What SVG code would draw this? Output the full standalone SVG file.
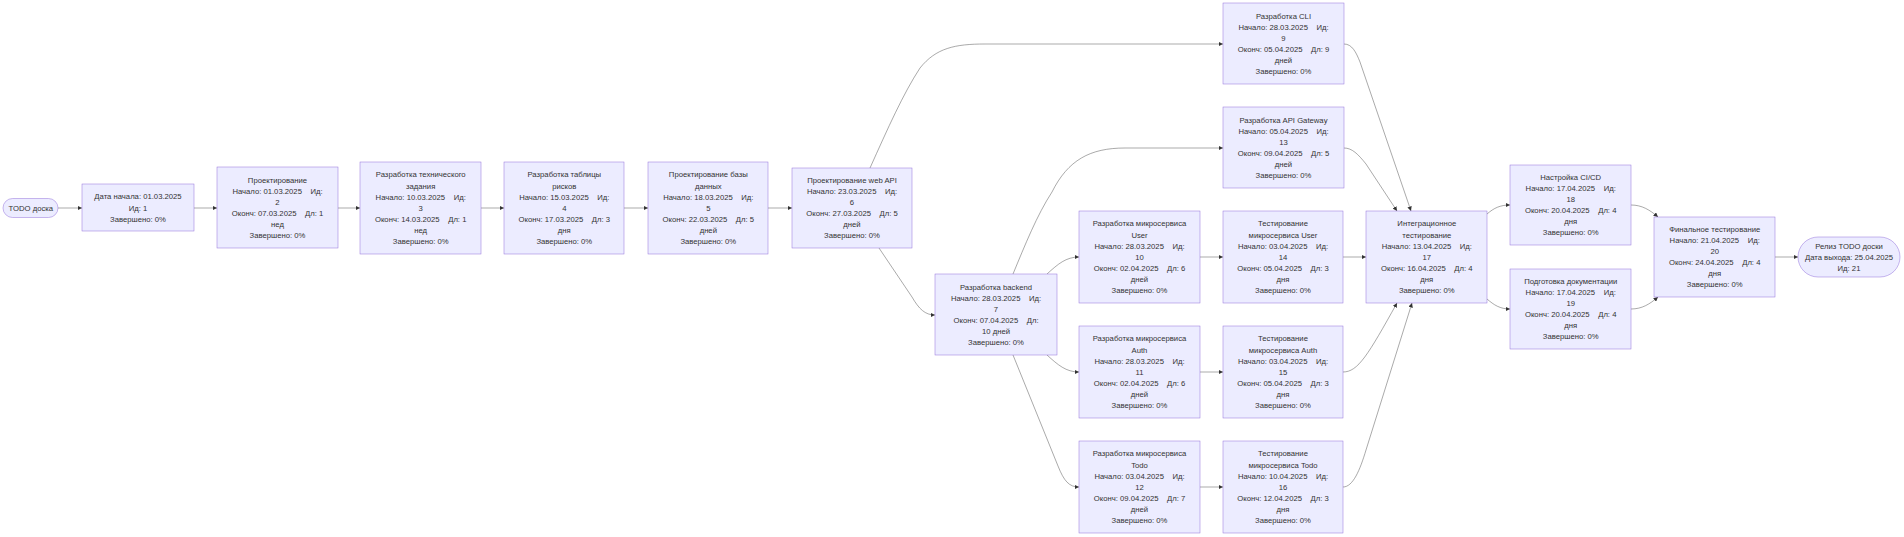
<svg xmlns="http://www.w3.org/2000/svg" width="1904" height="537" viewBox="0 0 1904 537">
<defs>
<style>
.n rect{fill:#ECECFF;stroke:#9370DB;stroke-width:0.5}
text{font-family:"Liberation Sans",Arial,sans-serif;font-size:7.7px;fill:#333;text-anchor:middle}
.e path{fill:none;stroke:#555;stroke-width:0.5;marker-end:url(#arr)}
</style>
<marker id="arr" viewBox="0 0 10 10" refX="10" refY="5" markerWidth="4.5" markerHeight="4.5" markerUnits="userSpaceOnUse" orient="auto"><path d="M0,0 L10,5 L0,10 z" fill="#333"/></marker>
</defs>
<rect width="1904" height="537" fill="#fff"/>
<g class="e" id="connectors">
<path d="M58,208 L82,208"/>
<path d="M194,208 L217,208"/>
<path d="M338,208 L360,208"/>
<path d="M481,208 L504,208"/>
<path d="M624,208 L648,208"/>
<path d="M768,208 L792,208"/>
<path d="M870,168 C888,128 903,94 920,68 C936,48 955,44 985,44 L1223,44"/>
<path d="M879,248 L912,297 C919,309 925,315 935,315"/>
<path d="M1013,274 C1025,245 1037,215 1052,192 C1068,160 1090,148 1125,148 L1223,148"/>
<path d="M1047,274 C1058,264 1066,257 1079,257"/>
<path d="M1047,355 C1058,365 1066,372 1079,372"/>
<path d="M1013,355 L1058,466 C1064,481 1069,487 1079,487"/>
<path d="M1200,257 L1223,257"/>
<path d="M1200,372 L1223,372"/>
<path d="M1200,487 L1223,487"/>
<path d="M1344,44 C1352,44 1356,52 1360,62 L1411,211"/>
<path d="M1344,148 C1352,148 1358,154 1366,164 L1397,211"/>
<path d="M1343,257 L1366,257"/>
<path d="M1343,372 C1358,372 1368,355 1397,303"/>
<path d="M1343,487 C1353,487 1360,470 1366,450 L1412,303"/>
<path d="M1487,214 C1494,208 1500,205 1510,205"/>
<path d="M1487,299 C1494,305 1500,309 1510,309"/>
<path d="M1631,205 C1642,205 1650,210 1658,217"/>
<path d="M1631,309 C1642,309 1650,304 1658,297"/>
<path d="M1775,257 L1798,257"/>
</g>
<g class="n" id="n1"><rect x="3" y="198.5" width="55" height="19" rx="9.5"/><text x="30.8" y="210.7">TODO доска</text></g>
<g class="n" id="n2"><rect x="82" y="184" width="112" height="47"/><text x="138" y="199.3"><tspan x="138">Дата начала: 01.03.2025</tspan><tspan x="138" dy="11.3">Ид: 1</tspan><tspan x="138" dy="11.3">Завершено: 0%</tspan></text></g>
<g class="n" id="n3"><rect x="217" y="167" width="121" height="81"/><text x="277.5" y="182.65"><tspan x="277.5">Проектирование</tspan><tspan x="277.5" dy="11.1">Начало: 01.03.2025&#160;&#160;&#160;&#160;Ид:</tspan><tspan x="277.5" dy="11.1">2</tspan><tspan x="277.5" dy="11.1">Оконч: 07.03.2025&#160;&#160;&#160;&#160;Дл: 1</tspan><tspan x="277.5" dy="11.1">нед</tspan><tspan x="277.5" dy="11.1">Завершено: 0%</tspan></text></g>
<g class="n" id="n4"><rect x="360" y="162" width="121" height="92"/><text x="420.7" y="177.4"><tspan x="420.7">Разработка технического</tspan><tspan x="420.7" dy="11.1">задания</tspan><tspan x="420.7" dy="11.1">Начало: 10.03.2025&#160;&#160;&#160;&#160;Ид:</tspan><tspan x="420.7" dy="11.1">3</tspan><tspan x="420.7" dy="11.1">Оконч: 14.03.2025&#160;&#160;&#160;&#160;Дл: 1</tspan><tspan x="420.7" dy="11.1">нед</tspan><tspan x="420.7" dy="11.1">Завершено: 0%</tspan></text></g>
<g class="n" id="n5"><rect x="504" y="162" width="120" height="92"/><text x="564.3" y="177.4"><tspan x="564.3">Разработка таблицы</tspan><tspan x="564.3" dy="11.1">рисков</tspan><tspan x="564.3" dy="11.1">Начало: 15.03.2025&#160;&#160;&#160;&#160;Ид:</tspan><tspan x="564.3" dy="11.1">4</tspan><tspan x="564.3" dy="11.1">Оконч: 17.03.2025&#160;&#160;&#160;&#160;Дл: 3</tspan><tspan x="564.3" dy="11.1">дня</tspan><tspan x="564.3" dy="11.1">Завершено: 0%</tspan></text></g>
<g class="n" id="n6"><rect x="648" y="162" width="120" height="92"/><text x="708.3" y="177.4"><tspan x="708.3">Проектирование базы</tspan><tspan x="708.3" dy="11.1">данных</tspan><tspan x="708.3" dy="11.1">Начало: 18.03.2025&#160;&#160;&#160;&#160;Ид:</tspan><tspan x="708.3" dy="11.1">5</tspan><tspan x="708.3" dy="11.1">Оконч: 22.03.2025&#160;&#160;&#160;&#160;Дл: 5</tspan><tspan x="708.3" dy="11.1">дней</tspan><tspan x="708.3" dy="11.1">Завершено: 0%</tspan></text></g>
<g class="n" id="n7"><rect x="792" y="168" width="120" height="80"/><text x="852" y="182.95"><tspan x="852">Проектирование web API</tspan><tspan x="852" dy="11.1">Начало: 23.03.2025&#160;&#160;&#160;&#160;Ид:</tspan><tspan x="852" dy="11.1">6</tspan><tspan x="852" dy="11.1">Оконч: 27.03.2025&#160;&#160;&#160;&#160;Дл: 5</tspan><tspan x="852" dy="11.1">дней</tspan><tspan x="852" dy="11.1">Завершено: 0%</tspan></text></g>
<g class="n" id="n8"><rect x="935" y="274" width="122" height="81"/><text x="996" y="289.65"><tspan x="996">Разработка backend</tspan><tspan x="996" dy="11.1">Начало: 28.03.2025&#160;&#160;&#160;&#160;Ид:</tspan><tspan x="996" dy="11.1">7</tspan><tspan x="996" dy="11.1">Оконч: 07.04.2025&#160;&#160;&#160;&#160;Дл:</tspan><tspan x="996" dy="11.1">10 дней</tspan><tspan x="996" dy="11.1">Завершено: 0%</tspan></text></g>
<g class="n" id="n9"><rect x="1223" y="3" width="121" height="81"/><text x="1283.5" y="18.75"><tspan x="1283.5">Разработка CLI</tspan><tspan x="1283.5" dy="11.1">Начало: 28.03.2025&#160;&#160;&#160;&#160;Ид:</tspan><tspan x="1283.5" dy="11.1">9</tspan><tspan x="1283.5" dy="11.1">Оконч: 05.04.2025&#160;&#160;&#160;&#160;Дл: 9</tspan><tspan x="1283.5" dy="11.1">дней</tspan><tspan x="1283.5" dy="11.1">Завершено: 0%</tspan></text></g>
<g class="n" id="n13"><rect x="1223" y="107" width="121" height="81"/><text x="1283.5" y="122.75"><tspan x="1283.5">Разработка API Gateway</tspan><tspan x="1283.5" dy="11.1">Начало: 05.04.2025&#160;&#160;&#160;&#160;Ид:</tspan><tspan x="1283.5" dy="11.1">13</tspan><tspan x="1283.5" dy="11.1">Оконч: 09.04.2025&#160;&#160;&#160;&#160;Дл: 5</tspan><tspan x="1283.5" dy="11.1">дней</tspan><tspan x="1283.5" dy="11.1">Завершено: 0%</tspan></text></g>
<g class="n" id="n10"><rect x="1079" y="211" width="121" height="92"/><text x="1139.5" y="226.4"><tspan x="1139.5">Разработка микросервиса</tspan><tspan x="1139.5" dy="11.1">User</tspan><tspan x="1139.5" dy="11.1">Начало: 28.03.2025&#160;&#160;&#160;&#160;Ид:</tspan><tspan x="1139.5" dy="11.1">10</tspan><tspan x="1139.5" dy="11.1">Оконч: 02.04.2025&#160;&#160;&#160;&#160;Дл: 6</tspan><tspan x="1139.5" dy="11.1">дней</tspan><tspan x="1139.5" dy="11.1">Завершено: 0%</tspan></text></g>
<g class="n" id="n14"><rect x="1223" y="211" width="120" height="92"/><text x="1283" y="226.4"><tspan x="1283">Тестирование</tspan><tspan x="1283" dy="11.1">микросервиса User</tspan><tspan x="1283" dy="11.1">Начало: 03.04.2025&#160;&#160;&#160;&#160;Ид:</tspan><tspan x="1283" dy="11.1">14</tspan><tspan x="1283" dy="11.1">Оконч: 05.04.2025&#160;&#160;&#160;&#160;Дл: 3</tspan><tspan x="1283" dy="11.1">дня</tspan><tspan x="1283" dy="11.1">Завершено: 0%</tspan></text></g>
<g class="n" id="n17"><rect x="1366" y="211" width="121" height="92"/><text x="1426.8" y="226.4"><tspan x="1426.8">Интеграционное</tspan><tspan x="1426.8" dy="11.1">тестирование</tspan><tspan x="1426.8" dy="11.1">Начало: 13.04.2025&#160;&#160;&#160;&#160;Ид:</tspan><tspan x="1426.8" dy="11.1">17</tspan><tspan x="1426.8" dy="11.1">Оконч: 16.04.2025&#160;&#160;&#160;&#160;Дл: 4</tspan><tspan x="1426.8" dy="11.1">дня</tspan><tspan x="1426.8" dy="11.1">Завершено: 0%</tspan></text></g>
<g class="n" id="n11"><rect x="1079" y="326" width="121" height="92"/><text x="1139.5" y="341.4"><tspan x="1139.5">Разработка микросервиса</tspan><tspan x="1139.5" dy="11.1">Auth</tspan><tspan x="1139.5" dy="11.1">Начало: 28.03.2025&#160;&#160;&#160;&#160;Ид:</tspan><tspan x="1139.5" dy="11.1">11</tspan><tspan x="1139.5" dy="11.1">Оконч: 02.04.2025&#160;&#160;&#160;&#160;Дл: 6</tspan><tspan x="1139.5" dy="11.1">дней</tspan><tspan x="1139.5" dy="11.1">Завершено: 0%</tspan></text></g>
<g class="n" id="n15"><rect x="1223" y="326" width="120" height="92"/><text x="1283" y="341.4"><tspan x="1283">Тестирование</tspan><tspan x="1283" dy="11.1">микросервиса Auth</tspan><tspan x="1283" dy="11.1">Начало: 03.04.2025&#160;&#160;&#160;&#160;Ид:</tspan><tspan x="1283" dy="11.1">15</tspan><tspan x="1283" dy="11.1">Оконч: 05.04.2025&#160;&#160;&#160;&#160;Дл: 3</tspan><tspan x="1283" dy="11.1">дня</tspan><tspan x="1283" dy="11.1">Завершено: 0%</tspan></text></g>
<g class="n" id="n12"><rect x="1079" y="441" width="121" height="92"/><text x="1139.5" y="456.4"><tspan x="1139.5">Разработка микросервиса</tspan><tspan x="1139.5" dy="11.1">Todo</tspan><tspan x="1139.5" dy="11.1">Начало: 03.04.2025&#160;&#160;&#160;&#160;Ид:</tspan><tspan x="1139.5" dy="11.1">12</tspan><tspan x="1139.5" dy="11.1">Оконч: 09.04.2025&#160;&#160;&#160;&#160;Дл: 7</tspan><tspan x="1139.5" dy="11.1">дней</tspan><tspan x="1139.5" dy="11.1">Завершено: 0%</tspan></text></g>
<g class="n" id="n16"><rect x="1223" y="441" width="120" height="92"/><text x="1283" y="456.4"><tspan x="1283">Тестирование</tspan><tspan x="1283" dy="11.1">микросервиса Todo</tspan><tspan x="1283" dy="11.1">Начало: 10.04.2025&#160;&#160;&#160;&#160;Ид:</tspan><tspan x="1283" dy="11.1">16</tspan><tspan x="1283" dy="11.1">Оконч: 12.04.2025&#160;&#160;&#160;&#160;Дл: 3</tspan><tspan x="1283" dy="11.1">дня</tspan><tspan x="1283" dy="11.1">Завершено: 0%</tspan></text></g>
<g class="n" id="n18"><rect x="1510" y="165" width="121" height="80"/><text x="1570.7" y="179.95"><tspan x="1570.7">Настройка CI/CD</tspan><tspan x="1570.7" dy="11.1">Начало: 17.04.2025&#160;&#160;&#160;&#160;Ид:</tspan><tspan x="1570.7" dy="11.1">18</tspan><tspan x="1570.7" dy="11.1">Оконч: 20.04.2025&#160;&#160;&#160;&#160;Дл: 4</tspan><tspan x="1570.7" dy="11.1">дня</tspan><tspan x="1570.7" dy="11.1">Завершено: 0%</tspan></text></g>
<g class="n" id="n19"><rect x="1510" y="269" width="121" height="80"/><text x="1570.7" y="283.95"><tspan x="1570.7">Подготовка документации</tspan><tspan x="1570.7" dy="11.1">Начало: 17.04.2025&#160;&#160;&#160;&#160;Ид:</tspan><tspan x="1570.7" dy="11.1">19</tspan><tspan x="1570.7" dy="11.1">Оконч: 20.04.2025&#160;&#160;&#160;&#160;Дл: 4</tspan><tspan x="1570.7" dy="11.1">дня</tspan><tspan x="1570.7" dy="11.1">Завершено: 0%</tspan></text></g>
<g class="n" id="n20"><rect x="1654" y="217" width="121" height="80"/><text x="1714.7" y="231.95"><tspan x="1714.7">Финальное тестирование</tspan><tspan x="1714.7" dy="11.1">Начало: 21.04.2025&#160;&#160;&#160;&#160;Ид:</tspan><tspan x="1714.7" dy="11.1">20</tspan><tspan x="1714.7" dy="11.1">Оконч: 24.04.2025&#160;&#160;&#160;&#160;Дл: 4</tspan><tspan x="1714.7" dy="11.1">дня</tspan><tspan x="1714.7" dy="11.1">Завершено: 0%</tspan></text></g>
<g class="n" id="n21"><rect x="1798" y="237" width="102" height="40" rx="20"/><text x="1849" y="248.6"><tspan x="1849">Релиз TODO доски</tspan><tspan x="1849" dy="11.1">Дата выхода: 25.04.2025</tspan><tspan x="1849" dy="11.1">Ид: 21</tspan></text></g>
</svg>
